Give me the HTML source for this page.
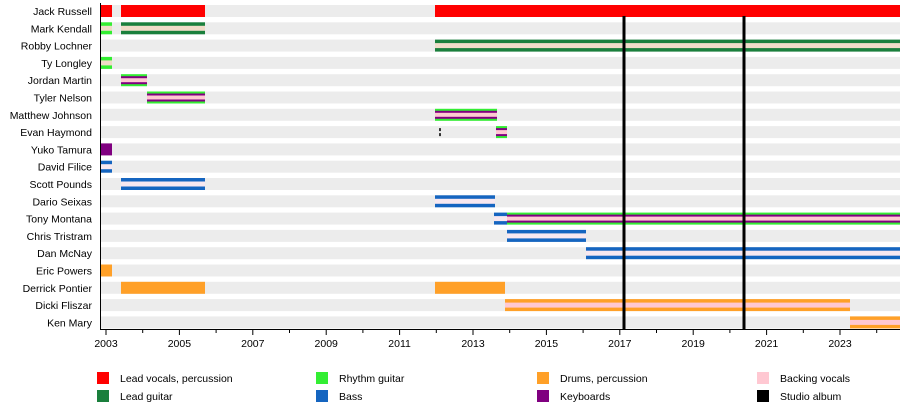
<!DOCTYPE html>
<html><head><meta charset="utf-8"><style>
html,body{margin:0;padding:0;background:#fff;width:900px;height:409px;overflow:hidden}
text{font-family:"Liberation Sans",Arial,sans-serif;font-size:10.5px;fill:#000}
</style></head><body>
<svg id="s" width="900" height="409" xmlns="http://www.w3.org/2000/svg"></svg>
<script>
(function(){
var R='#ff0000',G='#1a7f3c',L='#33ee33',O='#ffa028',P='#ffc8d2',K='#800080',B='#1565c0',M='#f0dcc8';
var names=["Jack Russell","Mark Kendall","Robby Lochner","Ty Longley","Jordan Martin","Tyler Nelson","Matthew Johnson","Evan Haymond","Yuko Tamura","David Filice","Scott Pounds","Dario Seixas","Tony Montana","Chris Tristram","Dan McNay","Eric Powers","Derrick Pontier","Dicki Fliszar","Ken Mary"];
var h='';
function ty(i){return 5+i*17.3;}
names.forEach(function(n,i){
 h+='<rect x="100" y="'+ty(i)+'" width="800" height="12" fill="#ececec"/>';
 h+='<text x="92" y="'+(ty(i)+10)+'" text-anchor="end">'+n+'</text>';
});
function solid(i,a,b,c){h+='<rect x="'+a+'" y="'+ty(i)+'" width="'+(b-a)+'" height="12" fill="'+c+'"/>';}
function two(i,a,b,c,m){solid(i,a,b,c);h+='<rect x="'+a+'" y="'+(ty(i)+3.5)+'" width="'+(b-a)+'" height="5" fill="'+m+'"/>';}
function tri(i,a,b){solid(i,a,b,L);h+='<rect x="'+a+'" y="'+(ty(i)+2)+'" width="'+(b-a)+'" height="8" fill="'+K+'"/><rect x="'+a+'" y="'+(ty(i)+4)+'" width="'+(b-a)+'" height="4" fill="'+P+'"/>';}
solid(0,100,112,R);solid(0,121,205,R);solid(0,435,900,R);
two(1,100,112,L,M);two(1,121,205,G,M);
two(2,435,900,G,M);
two(3,100,112,L,M);
tri(4,121,147);tri(5,147,205);tri(6,435,497);
h+='<rect x="439" y="'+(ty(7)+2)+'" width="2" height="3" fill="#333"/><rect x="439" y="'+(ty(7)+7)+'" width="2" height="3" fill="#333"/>';
tri(7,496,507);
solid(8,100,112,K);
var W='#f8e8f0';
two(9,100,112,B,W);two(10,121,205,B,W);two(11,435,495,B,W);
two(12,494,507,B,W);tri(12,507,900);
two(13,507,586,B,W);two(14,586,900,B,W);
solid(15,100,112,O);solid(16,121,205,O);solid(16,435,505,O);
two(17,505,850,O,P);two(18,850,900,O,P);
h+='<rect x="622.5" y="16" width="3" height="313" fill="#000"/><rect x="742.5" y="16" width="3" height="313" fill="#000"/>';
h+='<line x1="100.5" y1="3" x2="100.5" y2="329.5" stroke="#000"/><line x1="100" y1="329.5" x2="900" y2="329.5" stroke="#000"/>';
for(var y=2003;y<=2024;y++){var x=106+(y-2003)*36.7;
 var big=(y%2==1);h+='<line x1="'+x+'" y1="329" x2="'+x+'" y2="'+(big?335:333)+'" stroke="#000"/>';
 if(big)h+='<text x="'+x+'" y="347" text-anchor="middle">'+y+'</text>';}
var lg=[[97,372,R,"Lead vocals, percussion"],[97,390,G,"Lead guitar"],[316,372,L,"Rhythm guitar"],[316,390,B,"Bass"],[537,372,O,"Drums, percussion"],[537,390,K,"Keyboards"],[757,372,P,"Backing vocals"],[757,390,'#000',"Studio album"]];
lg.forEach(function(e){h+='<rect x="'+e[0]+'" y="'+e[1]+'" width="12" height="12" fill="'+e[2]+'"/><text x="'+(e[0]+23)+'" y="'+(e[1]+10)+'">'+e[3]+'</text>';});
document.getElementById('s').innerHTML=h;
})();
</script>
</body></html>
